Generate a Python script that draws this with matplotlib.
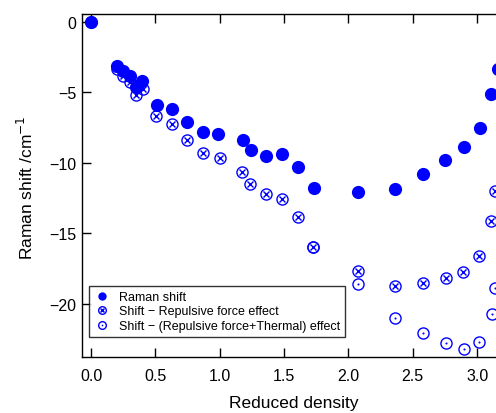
import matplotlib
matplotlib.use("Agg")
import matplotlib.pyplot as plt
from matplotlib.lines import Line2D

plt.rcParams['font.family'] = ['Liberation Sans', 'DejaVu Sans']

# Raman shift (filled circles)
raman_x = [0.0, 0.20, 0.246, 0.303, 0.35, 0.394, 0.51, 0.63, 0.748, 0.873, 0.99,
           1.183, 1.241, 1.357, 1.482, 1.606, 1.733, 2.077, 2.362, 2.582, 2.753,
           2.898, 3.022, 3.11, 3.16]
raman_y = [0.0, -3.13, -3.46, -3.84, -4.62, -4.19, -5.87, -6.21, -7.13, -7.79, -7.93,
           -8.36, -9.09, -9.50, -9.38, -10.28, -11.77, -12.07, -11.86, -10.77, -9.80,
           -8.88, -7.53, -5.09, -3.32]

# Shift - Repulsive force effect (crossed circles)
rep_x = [0.0, 0.20, 0.251, 0.303, 0.347, 0.402, 0.507, 0.629, 0.748, 0.873, 1.002,
         1.176, 1.238, 1.36, 1.482, 1.606, 1.727, 2.077, 2.362, 2.582, 2.756,
         2.893, 3.017, 3.106, 3.14]
rep_y = [0.0, -3.37, -3.84, -4.26, -5.21, -4.74, -6.68, -7.22, -8.34, -9.28, -9.66,
         -10.63, -11.51, -12.24, -12.55, -13.85, -15.94, -17.64, -18.71, -18.52, -18.18,
         -17.78, -16.58, -14.09, -12.03]

# Shift - (Repulsive force + Thermal) effect (dotted circles)
th_x = [1.727, 2.077, 2.362, 2.582, 2.756, 2.898, 3.017, 3.113, 3.14]
th_y = [-15.94, -18.61, -21.02, -22.07, -22.78, -23.2, -22.68, -20.72, -18.87]

xticks = [0.0, 0.5, 1.0, 1.5, 2.0, 2.5, 3.0]
yticks = [0, -5, -10, -15, -20]

blue = '#0000ff'

fig = plt.figure(figsize=(4.96, 4.14), dpi=100)
# axes extends beyond right edge of the figure (cropped as in reference)
ax = fig.add_axes([82/496, 1-358.3/414, 459.5/496, (358.3-14.7)/414])
ax.set_xlim(-0.07, 3.5)
ax.set_ylim(-23.8, 0.59)

# thermal: open circle + center dot
ax.plot(th_x, th_y, linestyle='none', marker='o', markersize=8, markerfacecolor='none',
        markeredgecolor=blue, markeredgewidth=1.0, zorder=2)
ax.plot(th_x, th_y, linestyle='none', marker='o', markersize=1.5, markerfacecolor=blue,
        markeredgecolor=blue, markeredgewidth=0, zorder=2)
# repulsive: open circle + x
ax.plot(rep_x, rep_y, linestyle='none', marker='o', markersize=8, markerfacecolor='none',
        markeredgecolor=blue, markeredgewidth=1.0, zorder=3)
ax.plot(rep_x, rep_y, linestyle='none', marker='x', markersize=5, markeredgecolor=blue,
        markeredgewidth=1.0, zorder=3)
# raman: filled
ax.plot(raman_x, raman_y, linestyle='none', marker='o', markersize=9.5, markerfacecolor=blue,
        markeredgecolor=blue, markeredgewidth=0, zorder=4)

ax.set_xticks(xticks)
ax.set_xticklabels(['%.1f' % v for v in xticks])
ax.set_yticks(yticks)
ax.set_yticklabels(['\u2212%d' % -v if v < 0 else '%d' % v for v in yticks])
ax.tick_params(axis='both', direction='in', length=6.5, width=1, labelsize=11.5,
               top=True, right=False, colors='black')
ax.tick_params(axis='x', pad=8)
ax.tick_params(axis='y', pad=4)
for s in ['left', 'bottom', 'top']:
    ax.spines[s].set_linewidth(1.0)
ax.spines['right'].set_visible(False)

fig.text(294/496, 1-404/414, 'Reduced density', ha='center', va='center', fontsize=12.5)
fig.text(26/496, 1-188/414, 'Raman shift /cm$^{-1}$', ha='center', va='center',
         rotation=90, fontsize=12.5)

# legend handles
h1 = Line2D([], [], linestyle='none', marker='o', markersize=6, markerfacecolor=blue,
            markeredgecolor=blue, markeredgewidth=0)
h2a = Line2D([], [], linestyle='none', marker='o', markersize=5.5, markerfacecolor='none',
             markeredgecolor=blue, markeredgewidth=1.0)
h2b = Line2D([], [], linestyle='none', marker='x', markersize=3, markeredgecolor=blue,
             markeredgewidth=1.0)
h3a = Line2D([], [], linestyle='none', marker='o', markersize=5.5, markerfacecolor='none',
             markeredgecolor=blue, markeredgewidth=1.0)
h3b = Line2D([], [], linestyle='none', marker='o', markersize=1.2, markerfacecolor=blue,
             markeredgecolor=blue, markeredgewidth=0)
leg = ax.legend([h1, (h2a, h2b), (h3a, h3b)],
                ['Raman shift', 'Shift \u2212 Repulsive force effect',
                 'Shift \u2212 (Repulsive force+Thermal) effect'],
                loc='lower left', bbox_to_anchor=(7/459.5, 20.3/343.6), borderaxespad=0,
                fontsize=9, frameon=True, fancybox=False, edgecolor='black',
                handlelength=1.2, handletextpad=0.8, labelspacing=0.2,
                borderpad=0.4)
leg.get_frame().set_linewidth(1.0)
leg.set_zorder(10)

fig.savefig('out.png', dpi=100)
